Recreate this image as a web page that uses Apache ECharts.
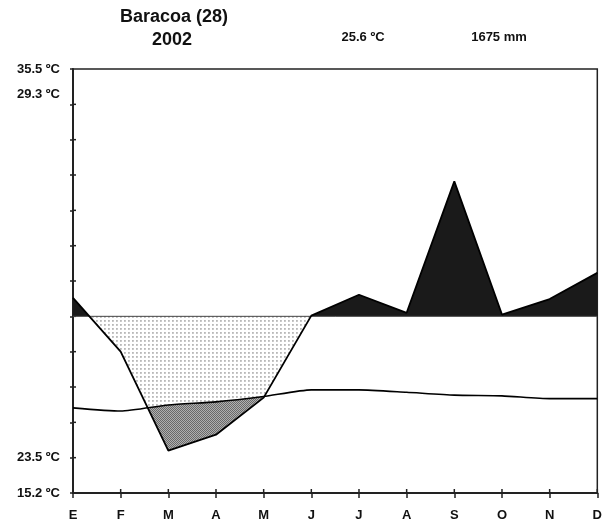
<!DOCTYPE html>
<html>
<head>
<meta charset="utf-8">
<script src="https://cdn.jsdelivr.net/npm/echarts@6/dist/echarts.min.js"></script>
<style>html,body{margin:0;padding:0;background:#fff;}#c{width:605px;height:527px;}</style>
</head>
<body>
<div id="c"></div>
<script>
// ---- data ----
const months = ['E','F','M','A','M','J','J','A','S','O','N','D'];
const precipMm = [152, 80, 24, 33, 54, 102, 161, 110, 482, 105, 149, 223];
const tempC = [24.1, 23.2, 24.9, 25.8, 27.3, 29.2, 29.2, 28.5, 27.7, 27.5, 26.7, 26.7];
const yLabelTexts = ['15.2 ºC', '23.5 ºC', '29.3 ºC', '35.5 ºC'];
const yLabelValues = [0, 1, 11.27, 12];
const titleText = 'Baracoa (28)';
const yearText = '2002';
const meanTempText = '25.6 ºC';
const totalPrecipText = '1675 mm';

// Walter-Lieth scale: 10 ºC = 20 mm = 1 unit; above 100 mm, 1 unit = 100 mm
const H = 5;
const Y_MAX = 12;
const pDisp = precipMm.map(p => p <= 100 ? p / 20 : H + (p - 100) / 100);
const tDisp = tempC.map(t => t / 10);
const hDisp = months.map(() => H);

function regions(upper, lower) {
  const polys = []; let cur = null;
  for (let i = 0; i < upper.length; i++) {
    const d = upper[i] - lower[i];
    if (i > 0) {
      const dp = upper[i - 1] - lower[i - 1];
      if ((dp > 0) !== (d > 0) && dp !== d) {
        const t = dp / (dp - d);
        const pt = [i - 1 + t, lower[i - 1] + t * (lower[i] - lower[i - 1])];
        if (cur) { cur.up.push(pt); cur.low.push(pt); polys.push(cur); cur = null; }
        else { cur = { up: [pt], low: [pt] }; }
      }
    }
    if (d > 0) {
      if (!cur) cur = { up: [], low: [] };
      cur.up.push([i, upper[i]]); cur.low.push([i, lower[i]]);
    }
  }
  if (cur) polys.push(cur);
  return polys.map(p => p.up.concat(p.low.slice().reverse()));
}

function makePattern(size, bg, dots) {
  const c = document.createElement('canvas');
  c.width = size; c.height = size;
  const g = c.getContext('2d');
  g.fillStyle = bg; g.fillRect(0, 0, size, size);
  dots.forEach(d => { g.fillStyle = d[2]; g.fillRect(d[0], d[1], 1, 1); });
  return { image: c, repeat: 'repeat' };
}
const lightPat = makePattern(4, '#ffffff', [[0,0,'#b8b8b8'],[1,0,'#c4c4c4'],[0,1,'#c4c4c4'],[1,1,'#d0d0d0']]);
const darkPat = makePattern(2, '#b0b0b0', [[0,0,'#6a6a6a'],[1,1,'#6a6a6a']]);

const lightPolys = regions(hDisp, pDisp);
const darkPolys = regions(tDisp, pDisp);
const blackPolys = regions(pDisp, hDisp);

const chart = echarts.init(document.getElementById('c'), null, { renderer: 'canvas' });
const boldFont = 'bold 13px "Liberation Sans", Arial, sans-serif';

chart.setOption({
  animation: false,
  backgroundColor: '#fff',
  grid: { left: 73, right: 6, top: 69, bottom: 34, show: true, borderColor: '#222', borderWidth: 1.5, backgroundColor: 'transparent' },
  graphic: [
    { type: 'text', x: 174, y: 17, style: { text: titleText, font: 'bold 18px "Liberation Sans", Arial, sans-serif', fill: '#111', textAlign: 'center', textVerticalAlign: 'middle' } },
    { type: 'text', x: 172, y: 40, style: { text: yearText, font: 'bold 18px "Liberation Sans", Arial, sans-serif', fill: '#111', textAlign: 'center', textVerticalAlign: 'middle' } },
    { type: 'text', x: 363, y: 37, style: { text: meanTempText, font: boldFont, fill: '#111', textAlign: 'center', textVerticalAlign: 'middle' } },
    { type: 'text', x: 499, y: 37, style: { text: totalPrecipText, font: boldFont, fill: '#111', textAlign: 'center', textVerticalAlign: 'middle' } }
  ],
  xAxis: { type: 'value', min: 0, max: 11, interval: 1, position: 'bottom',
    axisLine: { show: true, lineStyle: { color: '#222', width: 2 } },
    axisTick: { show: true, length: 5, lineStyle: { color: '#222', width: 1.5 } },
    axisLabel: { formatter: v => months[v] || '', fontFamily: '"Liberation Sans", Arial, sans-serif', fontWeight: 'bold', fontSize: 13, color: '#111', margin: 16 },
    splitLine: { show: false } },
  yAxis: { type: 'value', min: 0, max: Y_MAX, interval: 1, position: 'left',
    axisLine: { show: true, lineStyle: { color: '#222', width: 2 } },
    axisTick: { show: true, length: 3, lineStyle: { color: '#222', width: 1.5 } },
    axisLabel: { customValues: yLabelValues,
      formatter: v => { const k = yLabelValues.findIndex(x => Math.abs(x - v) < 1e-6); return k >= 0 ? yLabelTexts[k] : ''; },
      fontFamily: '"Liberation Sans", Arial, sans-serif', fontWeight: 'bold', fontSize: 13, color: '#111', margin: 13 },
    splitLine: { show: false } },
  series: [
    { type: 'custom', silent: true, data: [[0, 0]],
      renderItem: (params, api) => {
        const toPx = poly => poly.map(p => api.coord(p));
        const children = [];
        lightPolys.forEach(p => children.push({ type: 'polygon', shape: { points: toPx(p) }, style: { fill: lightPat, stroke: null } }));
        darkPolys.forEach(p => children.push({ type: 'polygon', shape: { points: toPx(p) }, style: { fill: darkPat, stroke: null } }));
        blackPolys.forEach(p => children.push({ type: 'polygon', shape: { points: toPx(p) }, style: { fill: '#1a1a1a', stroke: null } }));
        // inner halves of the axis ticks (ticks cross the axis lines)
        for (let v = 1; v < Y_MAX; v++) {
          const a = api.coord([0, v]);
          children.push({ type: 'line', shape: { x1: a[0], y1: a[1], x2: a[0] + 3, y2: a[1] }, style: { stroke: '#222', lineWidth: 1.5 } });
        }
        for (let m = 1; m < months.length; m++) {
          const a = api.coord([m, 0]);
          children.push({ type: 'line', shape: { x1: a[0], y1: a[1], x2: a[0], y2: a[1] - 4 }, style: { stroke: '#222', lineWidth: 1.5 } });
        }
        return { type: 'group', children };
      } },
    { type: 'line', name: '100mm', data: [[0, H], [11, H]], symbol: 'none', silent: true,
      lineStyle: { color: '#444', width: 1 } },
    { type: 'line', name: 'temp', data: tDisp.map((v, i) => [i, v]), symbol: 'none', silent: true, smooth: 0.2,
      lineStyle: { color: '#000', width: 1.6 } },
    { type: 'line', name: 'precip', data: pDisp.map((v, i) => [i, v]), symbol: 'none', silent: true,
      lineStyle: { color: '#000', width: 1.8 } }
  ]
});
</script>
</body>
</html>
